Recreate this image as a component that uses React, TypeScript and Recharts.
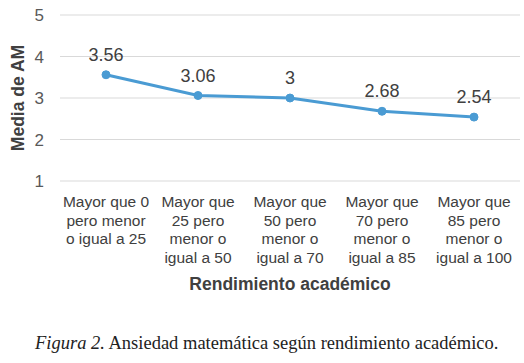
import { LineChart, Line, XAxis, YAxis, CartesianGrid, LabelList } from 'recharts';

const categoryLines: string[][] = [
  ['Mayor que 0', 'pero menor', 'o igual a 25'],
  ['Mayor que', '25 pero', 'menor o', 'igual a 50'],
  ['Mayor que', '50 pero', 'menor o', 'igual a 70'],
  ['Mayor que', '70 pero', 'menor o', 'igual a 85'],
  ['Mayor que', '85 pero', 'menor o', 'igual a 100'],
];
const categories = categoryLines.map(lines => lines.join(' '));
const mediaAM = [3.56, 3.06, 3, 2.68, 2.54];
const yTicks = [1, 2, 3, 4, 5];

const data = categories.map((cat, i) => ({ cat, value: mediaAM[i] }));

const FONT = 'Arial, "Liberation Sans", Helvetica, sans-serif';
const LINE_COLOR = '#4A9BD3';

const CategoryTick = ({ x, y, payload, index }: any) => {
  const lines = categoryLines[index] ?? [String(payload.value)];
  return (
    <g transform={`translate(${x},${y})`}>
      {lines.map((line, i) => (
        <text
          key={i}
          x={0}
          y={18 + i * 18.5}
          textAnchor="middle"
          fontSize={15.5}
          fontFamily={FONT}
          fill="#404040"
        >
          {line}
        </text>
      ))}
    </g>
  );
};

export default function App() {
  return (
    <div style={{ position: 'absolute', left: 0, top: 0, width: 524, height: 363, background: '#fff' }}>
      <LineChart
        width={524}
        height={310}
        data={data}
        margin={{ top: 15, right: 4, bottom: 29, left: 0 }}
      >
        <CartesianGrid vertical={false} stroke="#d9d9d9" strokeWidth={1} />
        <XAxis
          dataKey="cat"
          axisLine={false}
          tickLine={false}
          interval={0}
          height={100}
          padding={{ left: 46, right: 46 }}
          tick={<CategoryTick />}
        />
        <YAxis
          width={60}
          domain={[1, 5]}
          ticks={yTicks}
          axisLine={false}
          tickLine={false}
          tickMargin={10}
          tick={{ fontSize: 17, fill: '#595959', fontFamily: FONT }}
        />
        <Line
          type="linear"
          dataKey="value"
          stroke={LINE_COLOR}
          strokeWidth={3}
          dot={{ r: 4, fill: LINE_COLOR, stroke: LINE_COLOR, strokeWidth: 1 }}
          isAnimationActive={false}
        >
          <LabelList
            dataKey="value"
            position="top"
            offset={14}
            fontSize={18}
            fontFamily={FONT}
            fill="#404040"
          />
        </Line>
      </LineChart>
      <div
        style={{
          position: 'absolute',
          left: 18,
          top: 98,
          transform: 'translate(-50%, -50%) rotate(-90deg)',
          whiteSpace: 'nowrap',
          fontFamily: FONT,
          fontWeight: 'bold',
          fontSize: 17.5,
          color: '#404040',
        }}
      >
        Media de AM
      </div>
      <div
        style={{
          position: 'absolute',
          left: 290,
          top: 284,
          transform: 'translate(-50%, -50%)',
          whiteSpace: 'nowrap',
          fontFamily: FONT,
          fontWeight: 'bold',
          fontSize: 17.5,
          color: '#404040',
        }}
      >
        Rendimiento académico
      </div>
      <div
        style={{
          position: 'absolute',
          left: 35,
          top: 343,
          transform: 'translateY(-50%)',
          whiteSpace: 'nowrap',
          fontFamily: '"Times New Roman", "Liberation Serif", serif',
          fontSize: 18.5,
          color: '#222',
        }}
      >
        <i>Figura 2.</i> Ansiedad matemática según rendimiento académico.
      </div>
    </div>
  );
}
